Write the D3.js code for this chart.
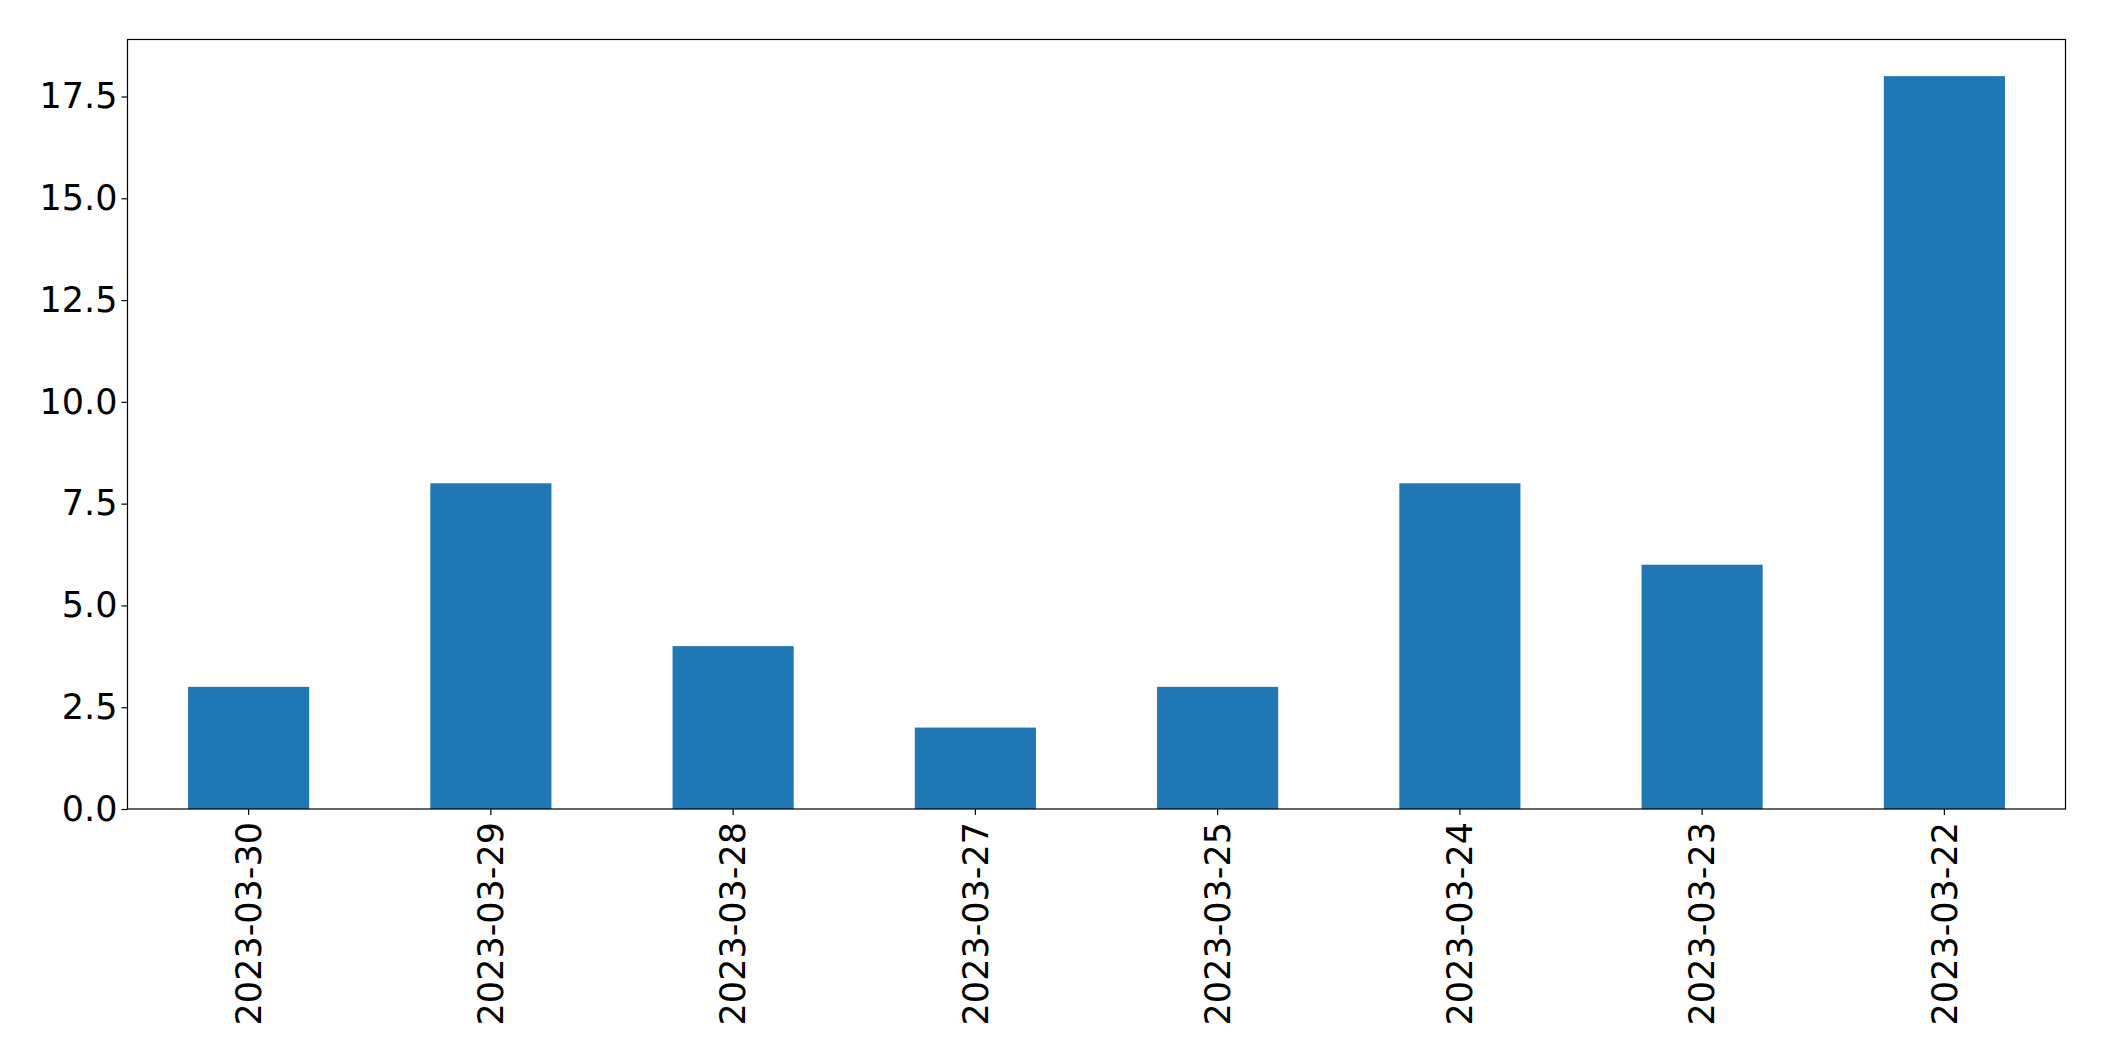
<!DOCTYPE html>
<html>
<head>
<meta charset="utf-8">
<script src="https://cdn.jsdelivr.net/npm/d3@7"></script>
<style>
html,body{margin:0;padding:0;background:#fff;}
svg{display:block;}
text{font-family:"DejaVu Sans",sans-serif;fill:#000;}
</style>
</head>
<body>
<svg id="chart" width="2104" height="1061"></svg>
<script>
const categories = ["2023-03-30","2023-03-29","2023-03-28","2023-03-27","2023-03-25","2023-03-24","2023-03-23","2023-03-22"];
const values = [3, 8, 4, 2, 3, 8, 6, 18];
const yTicks = [0, 2.5, 5, 7.5, 10, 12.5, 15, 17.5];

const W = 2104, H = 1061;
const m = {left: 127.5, right: 2065.5, top: 39.5, bottom: 809};
const svg = d3.select("#chart");
svg.append("rect").attr("width", W).attr("height", H).attr("fill", "#fff");

const x = d3.scaleBand().domain(categories).range([m.left, m.right]).paddingInner(0.5).paddingOuter(0.25);
const y = d3.scaleLinear().domain([0, d3.max(values) * 1.05]).range([m.bottom, m.top]);

svg.append("g").selectAll("rect").data(values).join("rect")
  .attr("x", (d, i) => x(categories[i]))
  .attr("width", x.bandwidth())
  .attr("y", d => y(d))
  .attr("height", d => y(0) - y(d))
  .attr("fill", "#1f77b4");

const fs = 35;
const yAxis = d3.axisLeft(y).tickValues(yTicks).tickFormat(d3.format(".1f")).tickSize(6).tickPadding(4);
const gy = svg.append("g").attr("transform", `translate(${m.left},0)`).call(yAxis);
gy.select(".domain").remove();
gy.selectAll("line").attr("stroke", "#000").attr("stroke-width", 1.2);
gy.selectAll("text").attr("font-size", fs).attr("font-family", "DejaVu Sans").attr("fill", "#000");

const xAxis = d3.axisBottom(x).tickSize(6).tickPadding(0);
const gx = svg.append("g").attr("transform", `translate(0,${m.bottom})`).call(xAxis);
gx.select(".domain").remove();
gx.selectAll("line").attr("stroke", "#000").attr("stroke-width", 1.2);
gx.selectAll("text")
  .attr("font-size", fs).attr("font-family", "DejaVu Sans").attr("fill", "#000")
  .attr("text-anchor", "end")
  .attr("transform", "translate(0,13) rotate(-90)")
  .attr("x", 0).attr("y", 0).attr("dy", "0.35em");

svg.append("rect")
  .attr("x", m.left).attr("y", m.top)
  .attr("width", m.right - m.left).attr("height", m.bottom - m.top)
  .attr("fill", "none").attr("stroke", "#000").attr("stroke-width", 1.2);
</script>
</body>
</html>
